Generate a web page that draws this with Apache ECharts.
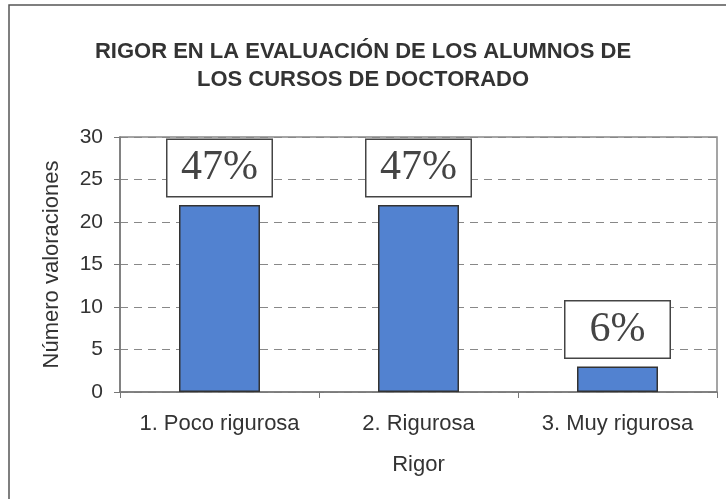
<!DOCTYPE html>
<html>
<head>
<meta charset="utf-8">
<script src="https://cdn.jsdelivr.net/npm/echarts@6/dist/echarts.min.js"></script>
<style>
  html, body { margin: 0; padding: 0; background: #fff; }
  #chart { width: 726px; height: 499px; }
</style>
</head>
<body>
<div id="chart"></div>
<script>
// datos
const categorias = ["1. Poco rigurosa", "2. Rigurosa", "3. Muy rigurosa"];
const valoraciones = [22, 22, 3];
const porcentajes = ["47%", "47%", "6%"];

const chart = echarts.init(document.getElementById("chart"));

const option = {
    backgroundColor: "#fff",
    animation: false,
    title: {
        text: "RIGOR EN LA EVALUACIÓN DE LOS ALUMNOS DE\nLOS CURSOS DE DOCTORADO",
        left: "center",
        top: 33,
        textStyle: {
            fontFamily: "Liberation Sans",
            fontWeight: "bold",
            fontSize: 22,
            lineHeight: 28,
            color: "#333"
        }
    },
    // marco exterior
    graphic: [{
        type: "rect",
        shape: { x: 9, y: 5, width: 760, height: 540 },
        style: { fill: "none", stroke: "#555", lineWidth: 1.5 },
        silent: true
    }],
    grid: {
        left: 120,
        right: 9,
        top: 137,
        bottom: 107,
        show: true,
        borderColor: "#888",
        borderWidth: 1.5
    },
    xAxis: {
        type: "category",
        data: categorias,
        name: "Rigor",
        nameLocation: "middle",
        nameGap: 62,
        nameTextStyle: { fontFamily: "Liberation Sans", fontSize: 22, color: "#333" },
        axisLine: { lineStyle: { color: "#777", width: 1.5 } },
        axisTick: { show: true, alignWithLabel: false, length: 6, lineStyle: { color: "#777" } },
        axisLabel: { interval: 0, fontFamily: "Liberation Sans", fontSize: 22, color: "#333", margin: 21 }
    },
    yAxis: {
        type: "value",
        min: 0,
        max: 30,
        interval: 5,
        name: "Número valoraciones",
        nameLocation: "middle",
        nameGap: 57,
        nameTextStyle: { fontFamily: "Liberation Sans", fontSize: 22, color: "#333" },
        axisLine: { show: true, lineStyle: { color: "#777", width: 1.5 } },
        axisTick: { show: true, length: 6, lineStyle: { color: "#777" } },
        axisLabel: { fontFamily: "Liberation Sans", fontSize: 21, color: "#333", margin: 17 },
        splitLine: { lineStyle: { color: "#888", type: [8, 6], width: 1 } }
    },
    series: [{
        type: "bar",
        data: valoraciones,
        barWidth: 81,
        itemStyle: { color: "#5282d0", borderColor: "#333", borderWidth: 1.5 },
        label: {
            show: true,
            position: "top",
            distance: 9,
            formatter: p => porcentajes[p.dataIndex],
            fontFamily: "Liberation Serif",
            fontSize: 42,
            color: "#444",
            backgroundColor: "#fff",
            borderColor: "#444",
            borderWidth: 1.5,
            width: 78,
            align: "center",
            padding: [7, 13, 7, 13]
        }
    }]
};

chart.setOption(option);
</script>
</body>
</html>
